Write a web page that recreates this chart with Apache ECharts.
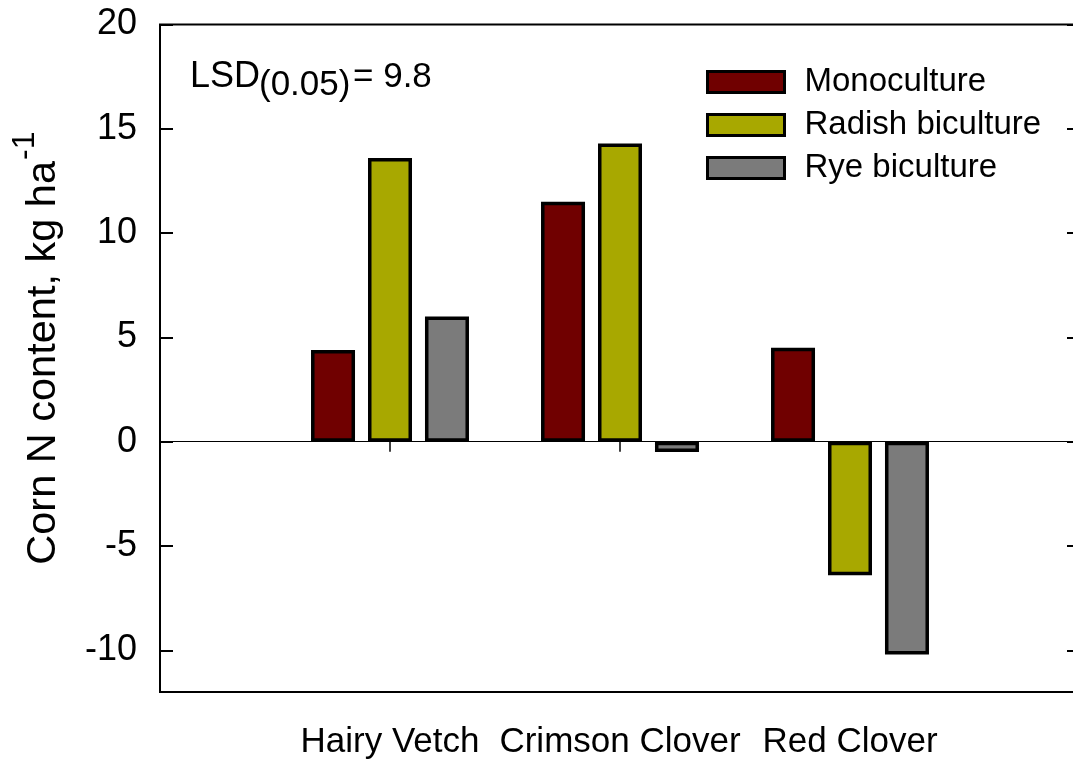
<!DOCTYPE html>
<html>
<head>
<meta charset="utf-8">
<style>
  html, body { margin: 0; padding: 0; background: #fff; }
  #chart { width: 1073px; height: 762px; }
</style>
<script src="https://cdn.jsdelivr.net/npm/echarts@6/dist/echarts.min.js"></script>
</head>
<body>
<div id="chart"></div>
<script>
const categories = ['Hairy Vetch', 'Crimson Clover', 'Red Clover'];
const seriesNames = ['Monoculture', 'Radish biculture', 'Rye biculture'];
const monoculture = [4.4, 11.5, 4.5];
const radishBiculture = [13.6, 14.3, -6.4];
const ryeBiculture = [6.0, -0.5, -10.2];
const yTicks = [-10, -5, 0, 5, 10, 15, 20];
const colors = ['#700000', '#a8a800', '#7b7b7b'];
const yTitleMain = 'Corn N content, kg ha';
const yTitleSup = '-1';

const FONT = 'Liberation Sans, Arial, Helvetica, sans-serif';
const xCats = [''].concat(categories, ['']);
const pad = arr => [null].concat(arr, [null]);
const seriesData = [monoculture, radishBiculture, ryeBiculture];

const chart = echarts.init(document.getElementById('chart'), null, { renderer: 'canvas' });

const series = seriesNames.map((name, i) => {
  const s = {
    name: name,
    type: 'bar',
    data: pad(seriesData[i]),
    barWidth: 44,
    barGap: '29.5%',
    itemStyle: { color: colors[i], borderColor: '#000', borderWidth: 3.5 },
    emphasis: { disabled: true }
  };
  if (i === 0) {
    s.markLine = {
      silent: true,
      symbol: ['none', 'none'],
      label: { show: false },
      lineStyle: { color: '#000', width: 1.2, type: 'solid' },
      data: [{ yAxis: 0 }],
      z: 1
    };
  }
  return s;
});

chart.setOption({
  animation: false,
  textStyle: { fontFamily: FONT },
  grid: {
    left: 160, right: -7, top: 24.5, bottom: 70,
    outerBoundsMode: 'none',
    containLabel: false,
    show: true, borderColor: '#000', borderWidth: 2, backgroundColor: 'transparent'
  },
  legend: {
    orient: 'vertical',
    left: 706, top: 65.5,
    padding: 0,
    itemWidth: 77, itemHeight: 21,
    itemGap: 10,
    icon: 'rect',
    itemStyle: { borderColor: '#000', borderWidth: 3 },
    textStyle: { fontSize: 33, color: '#000', fontFamily: FONT, padding: [0, 0, 0, 15] },
    data: seriesNames
  },
  xAxis: {
    type: 'category',
    data: xCats,
    boundaryGap: false,
    axisLine: { show: false },
    axisTick: {
      show: true, inside: false, length: 10,
      lineStyle: { color: '#000', width: 1.5 },
      interval: (idx, val) => val !== ''
    },
    axisLabel: { interval: 0, fontSize: 35, color: '#000', margin: 33, fontFamily: FONT },
    splitLine: { show: false }
  },
  yAxis: [
    {
      type: 'value', position: 'left', min: -12, max: 20,
      axisLine: { show: false },
      axisTick: { show: true, inside: true, length: 13, lineStyle: { color: '#000', width: 2 }, customValues: yTicks },
      axisLabel: { customValues: yTicks, fontSize: 36, color: '#000', margin: 23, fontFamily: FONT },
      splitLine: { show: false }
    },
    {
      type: 'value', position: 'right', min: -12, max: 20,
      axisLine: { show: false },
      axisTick: { show: true, inside: true, length: 13, lineStyle: { color: '#000', width: 2 }, customValues: yTicks },
      axisLabel: { show: false },
      splitLine: { show: false }
    }
  ],
  graphic: [
    { type: 'text', left: 190, top: 59, style: { text: 'LSD', font: '36px ' + FONT, fill: '#000' } },
    { type: 'text', left: 259, top: 68, style: { text: '(0.05)', font: '35px ' + FONT, fill: '#000' } },
    { type: 'text', left: 353, top: 60, style: { text: '= 9.8', font: '35px ' + FONT, fill: '#000' } },
    { type: 'text', x: 44, y: 161, rotation: Math.PI / 2,
      style: { text: yTitleMain, font: '41.5px ' + FONT, fill: '#000', align: 'right', verticalAlign: 'middle' } },
    { type: 'text', x: 25, y: 160, rotation: Math.PI / 2,
      style: { text: yTitleSup, font: '32px ' + FONT, fill: '#000', align: 'left', verticalAlign: 'middle' } }
  ],
  series: series
});
</script>
</body>
</html>
